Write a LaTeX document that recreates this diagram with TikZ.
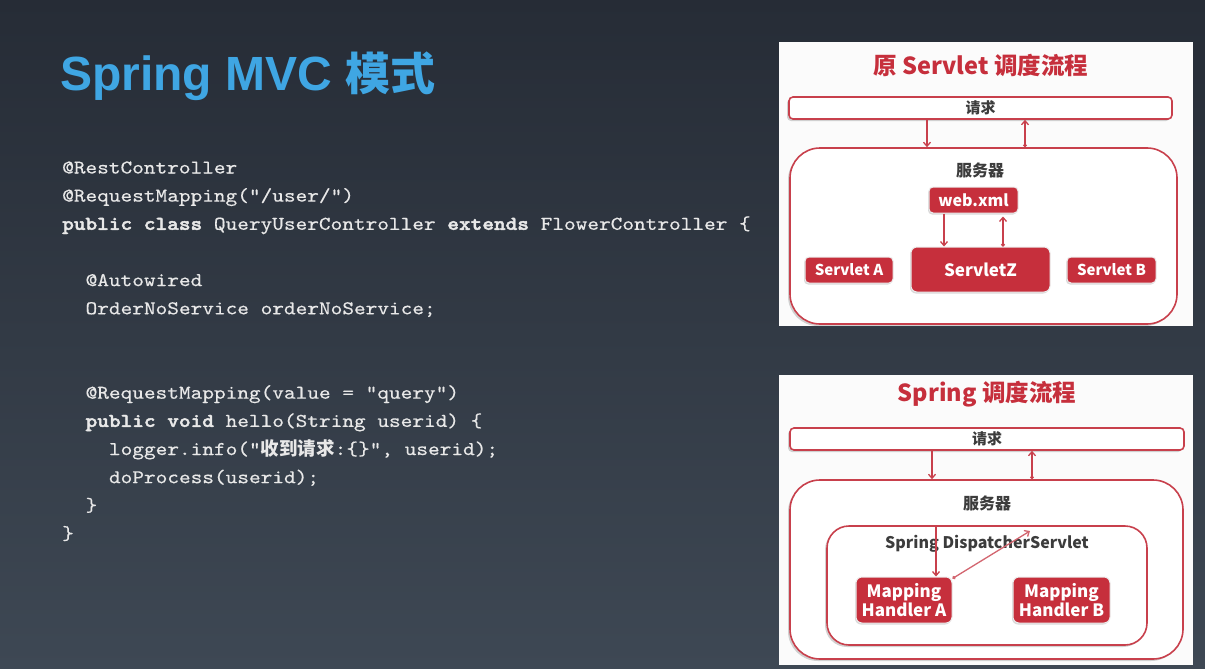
\documentclass[tikz,border=0pt]{standalone}
\usepackage{fontspec}
\setmainfont{Liberation Sans}
\setmonofont{lmmono10-regular.otf}[BoldFont=lmmonolt10-bold.otf,FakeStretch=1.14,
  UprightFeatures={FakeBold=0.4},BoldFeatures={FakeBold=2.2}]
\newfontfamily\cjk{Noto Sans CJK SC}
\usetikzlibrary{arrows.meta,shadows}
\definecolor{bgtop}{HTML}{262C36}
\definecolor{bgbot}{HTML}{3E4854}
\definecolor{titleblue}{HTML}{3FA6E3}
\definecolor{codegray}{HTML}{E8E8E8}
\definecolor{boxred}{HTML}{C62F3C}
\definecolor{linered}{HTML}{C8404C}
\definecolor{labelgray}{HTML}{3C3C3C}

\begin{document}
\begin{tikzpicture}[x=1pt,y=-1pt,
  code/.style={anchor=base west,inner sep=0pt,text=codegray,font=\fontsize{19.5}{23}\ttfamily},
  frame/.style={draw=linered,line width=1.6pt,fill=white,
    drop shadow={shadow xshift=-2pt,shadow yshift=-2pt,opacity=0.35}},
  redbox/.style={fill=boxred,draw=white!85!gray,line width=1pt,rounded corners=4pt,
    text=white,font=\cjk\bfseries\fontsize{16}{20}\selectfont,align=center,
    drop shadow={shadow xshift=-1pt,shadow yshift=-1.5pt,opacity=0.3}},
  plain/.style={text=labelgray,font=\cjk\bfseries\fontsize{15}{18}\selectfont,inner sep=0pt},
  flow/.style={draw=linered,line width=1.3pt,-{Straight Barb[length=4pt,width=7pt]}},
  back/.style={draw=linered,line width=1.3pt,{Circle[length=3.5pt]}-{Straight Barb[length=4pt,width=7pt]}}]
\useasboundingbox (0,0) rectangle (1205,669);
\shade[top color=bgtop,bottom color=bgbot] (0,0) rectangle (1205,669);

\node[anchor=base west,inner sep=0pt,text=titleblue,font=\bfseries\fontsize{48}{56}\selectfont]
  (title) at (60,91) {Spring MVC {\cjk\fontsize{45}{56}\selectfont 模式}};

\node[code] (c1) at (62,173.5) {@RestController};
\node[code] (c2) at (62,201.6) {@RequestMapping("/user/")};
\node[code] (c3) at (62,229.8) {\textbf{public class} QueryUserController \textbf{extends} FlowerController \{};
\node[code] (c5) at (85.4,286.1) {@Autowired};
\node[code] (c6) at (85.4,314.3) {OrderNoService orderNoService;};
\node[code] (c9) at (85.4,398.7) {@RequestMapping(value = "query")};
\node[code] (c10) at (85.4,426.9) {\textbf{public void} hello(String userid) \{};
\node[code] (c11) at (108.8,455.0) {logger.info("{\cjk\bfseries\fontsize{18.5}{23}\selectfont 收到请求}:\{\}", userid);};
\node[code] (c12) at (108.8,483.2) {doProcess(userid);};
\node[code] (c13) at (85.4,511.3) {\}};
\node[code] (c14) at (62,539.5) {\}};

\fill[white!97!gray] (779,42) rectangle (1193,326);
\node[text=boxred,font=\cjk\bfseries\fontsize{23.5}{28}\selectfont] (t1) at (981,65) {原 Servlet 调度流程};
\node[frame,rounded corners=4pt,minimum width=383pt,minimum height=22pt,inner sep=0pt] (req1) at (980.5,108) {};
\node[plain] at (req1) {请求};
\node[frame,rounded corners=30pt,minimum width=387pt,minimum height=176pt] (srv1) at (983.5,236) {};
\node[plain,font=\cjk\bfseries\fontsize{16}{18}\selectfont] (srvlab1) at (980,170) {服务器};
\node[redbox,minimum width=89pt,minimum height=26pt,inner sep=0pt] (web) at (973.5,200) {web.xml};
\node[redbox,minimum width=139pt,minimum height=45pt,inner sep=0pt,rounded corners=6pt,
  font=\cjk\bfseries\fontsize{17}{20}\selectfont] (sz) at (980.5,269.5) {ServletZ};
\node[redbox,minimum width=88pt,minimum height=26pt,inner sep=0pt,
  font=\cjk\bfseries\fontsize{15}{18}\selectfont] (sa) at (849,270) {Servlet A};
\node[redbox,minimum width=89pt,minimum height=26pt,inner sep=0pt,
  font=\cjk\bfseries\fontsize{15}{18}\selectfont] (sb) at (1111.5,270) {Servlet B};
\draw[flow] ([xshift=-53.5pt]req1.south) -- ([xshift=-53.5pt]req1.south |- srv1.north);
\draw[back] ([xshift=44.5pt]req1.south |- srv1.north) -- ([xshift=44.5pt]req1.south);
\draw[flow] ([xshift=-29.5pt]web.south) -- ([xshift=-29.5pt]web.south |- sz.north);
\draw[back] ([xshift=29.5pt]web.south |- sz.north) -- ([xshift=29.5pt,yshift=-3pt]web.south);

\fill[white!97!gray] (779,375) rectangle (1193,665);
\node[text=boxred,font=\cjk\bfseries\fontsize{23.5}{28}\selectfont] (t2) at (987,394) {Spring 调度流程};
\node[frame,rounded corners=4pt,minimum width=394pt,minimum height=22pt,inner sep=0pt] (req2) at (987,439) {};
\node[plain] at (req2) {请求};
\node[frame,rounded corners=30pt,minimum width=393pt,minimum height=179pt] (srv2) at (986.5,569.5) {};
\node[plain,font=\cjk\bfseries\fontsize{16}{18}\selectfont] (srvlab2) at (987,503) {服务器};
\node[frame,rounded corners=22pt,minimum width=320pt,minimum height=119pt] (disp) at (987,585.5) {};
\node[plain,font=\cjk\bfseries\fontsize{16}{18}\selectfont] (displab) at (987,544) {Spring DispatcherServlet};
\node[redbox,minimum width=96pt,minimum height=46pt,inner sep=0pt,rounded corners=6pt,
  font=\cjk\bfseries\fontsize{17}{19}\selectfont] (ha) at (904,600) {Mapping\\Handler A};
\node[redbox,minimum width=97pt,minimum height=46pt,inner sep=0pt,rounded corners=6pt,
  font=\cjk\bfseries\fontsize{17}{19}\selectfont] (hb) at (1061.5,600) {Mapping\\Handler B};
\coordinate (hit) at (1030,531);
\draw[flow] ([xshift=-55pt]req2.south) -- ([xshift=-55pt]req2.south |- srv2.north);
\draw[back] ([xshift=45pt]req2.south |- srv2.north) -- ([xshift=45pt]req2.south);
\draw[flow] ([xshift=32pt]ha.north |- disp.north) -- ([xshift=32pt]ha.north);
\draw[back,draw=linered!80] ([yshift=-2pt]ha.north east) -- (hit);
\end{tikzpicture}
\end{document}
